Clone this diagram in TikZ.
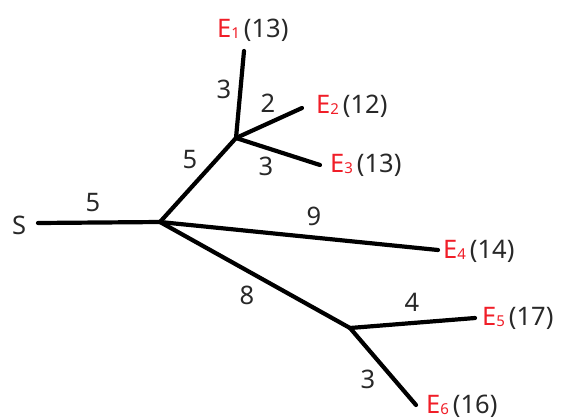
\documentclass[tikz,border=0pt]{standalone}
\usepackage{fontspec}
\setmainfont{Noto Sans}
\usepackage{xcolor}
\definecolor{endred}{RGB}{240,30,40}
\definecolor{txtgray}{RGB}{40,40,40}
\newcommand{\leaflbl}[2]{\textcolor{endred}{E\raisebox{-1.5pt}{\fontsize{15}{15}\selectfont #1}}\hspace{4pt}(#2)}

\begin{document}
\begin{tikzpicture}[
    x=1pt, y=-1pt,
    branch/.style={line width=4.2pt, line cap=round},
    leaf/.style={anchor=west, inner sep=0pt, font=\fontsize{25.5}{28}\selectfont, text=txtgray},
    wt/.style={inner sep=0pt, font=\fontsize{25.5}{28}\selectfont, text=txtgray},
]
\useasboundingbox (0,0) rectangle (561,418);

% junctions and line ends
\coordinate (s0) at (38,223);
\coordinate (ja) at (160,222);
\coordinate (jb) at (236,138);
\coordinate (jc) at (350,328);
\coordinate (e1) at (244,51);
\coordinate (e2) at (302,108);
\coordinate (e3) at (320,165);
\coordinate (e4) at (438,250);
\coordinate (e5) at (475,318);
\coordinate (e6) at (416,405);

\node[wt] (start) at (19,225) {S};
\node[leaf] (lab1) at (217,30) {\leaflbl{1}{13}};
\node[leaf] (lab2) at (316,106) {\leaflbl{2}{12}};
\node[leaf] (lab3) at (330,165) {\leaflbl{3}{13}};
\node[leaf] (lab4) at (443,251) {\leaflbl{4}{14}};
\node[leaf] (lab5) at (482,318) {\leaflbl{5}{17}};
\node[leaf] (lab6) at (426,406) {\leaflbl{6}{16}};

\draw[branch] (s0) -- (ja);
\draw[branch] (ja) -- (jb);
\draw[branch] (jb) -- (e1);
\draw[branch] (jb) -- (e2);
\draw[branch] (jb) -- (e3);
\draw[branch] (ja) -- (e4);
\draw[branch] (ja) -- (jc);
\draw[branch] (jc) -- (e5);
\draw[branch] (jc) -- (e6);

% weights
\node[wt] (w0) at (93,203) {5};
\node[wt] (w1) at (190,160) {5};
\node[wt] (w2) at (224,89) {3};
\node[wt] (w3) at (268,103) {2};
\node[wt] (w4) at (266,166) {3};
\node[wt] (w5) at (314,216) {9};
\node[wt] (w6) at (247,295) {8};
\node[wt] (w7) at (412,302) {4};
\node[wt] (w8) at (368,379) {3};

\end{tikzpicture}
\end{document}
